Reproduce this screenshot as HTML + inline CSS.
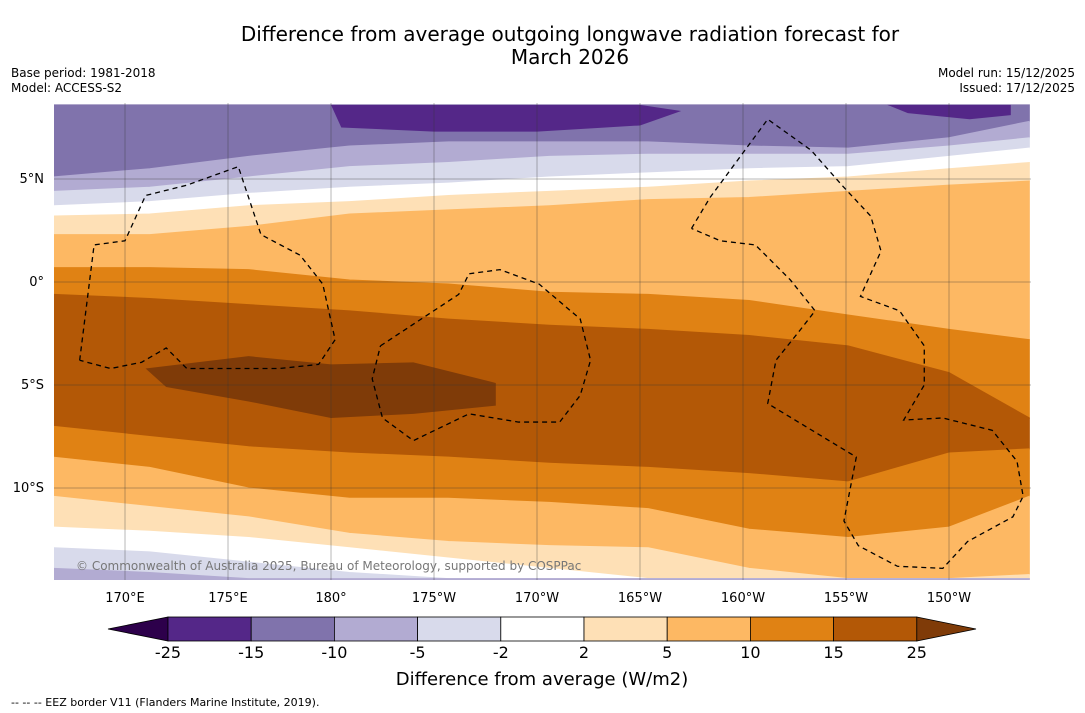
<!DOCTYPE html>
<html><head><meta charset="utf-8">
<style>
body{margin:0;background:#fff;width:1085px;height:713px;overflow:hidden;font-family:"DejaVu Sans","Liberation Sans",sans-serif;}
svg{position:absolute;left:0;top:0;font-family:"DejaVu Sans","Liberation Sans",sans-serif;}
</style></head>
<body>
<svg id="chart" width="1085" height="713">
<text x="570" y="41" font-size="20" text-anchor="middle">Difference from average outgoing longwave radiation forecast for</text>
<text x="570" y="64" font-size="20" text-anchor="middle">March 2026</text>
<text x="11" y="77" font-size="12">Base period: 1981-2018</text>
<text x="11" y="92" font-size="12">Model: ACCESS-S2</text>
<text x="1075" y="77" font-size="12" text-anchor="end">Model run: 15/12/2025</text>
<text x="1075" y="92" font-size="12" text-anchor="end">Issued: 17/12/2025</text>
<defs><clipPath id="mapclip"><rect x="54" y="103" width="977" height="477"/></clipPath></defs>
<g id="map" clip-path="url(#mapclip)"></g>
<g id="grid"></g>
<g id="eez"></g>
<g id="axes"></g>
<g id="cbar"></g>
<text x="76" y="570" font-size="12" fill="#777">© Commonwealth of Australia 2025, Bureau of Meteorology, supported by COSPPac</text>
<text x="542" y="685" font-size="18" text-anchor="middle">Difference from average (W/m2)</text>
<text x="11" y="706" font-size="11">--  --  -- EEZ border V11 (Flanders Marine Institute, 2019).</text>
</svg>
<script>
const NS="http://www.w3.org/2000/svg";
const levels=["-25","-15","-10","-5","-2","2","5","10","15","25"];
const colors=["#542788","#8073ac","#b2abd2","#d8daeb","#ffffff","#fee0b6","#fdb863","#e08214","#b35806"];
const lonTicks=["170°E","175°E","180°","175°W","170°W","165°W","160°W","155°W","150°W"];
const lonValues=[170,175,180,185,190,195,200,205,210];
const latTicks=["5°N","0°","5°S","10°S"];
const latValues=[5,0,-5,-10];
const sampleLon=[166.5,171.2,176.0,180.9,185.7,190.6,195.4,200.3,205.1,210.0,213.9];
const bandColors=["#8073ac","#b2abd2","#d8daeb","#ffffff","#fee0b6","#fdb863","#e08214","#b35806","#e08214","#fdb863","#fee0b6","#ffffff","#d8daeb","#b2abd2"];
const boundaries=[
[8.6,8.6,8.6,8.6,8.6,8.6,8.6,8.6,8.6,8.6,8.6],
[5.1,5.5,6.1,6.6,6.8,6.8,6.8,6.6,6.5,7.0,7.8],
[4.4,4.6,5.1,5.6,5.8,6.1,6.2,6.2,6.2,6.6,7.0],
[3.7,3.9,4.3,4.6,4.8,5.1,5.3,5.5,5.6,6.1,6.5],
[3.2,3.3,3.7,3.9,4.2,4.4,4.6,4.9,5.1,5.5,5.8],
[2.3,2.3,2.7,3.3,3.5,3.7,4.0,4.1,4.4,4.7,4.9],
[0.7,0.7,0.6,0.1,-0.1,-0.5,-0.6,-0.9,-1.6,-2.3,-2.8],
[-0.6,-0.8,-1.1,-1.4,-1.8,-2.1,-2.3,-2.6,-3.1,-4.4,-6.6],
[-7.0,-7.5,-8.0,-8.3,-8.5,-8.8,-9.0,-9.3,-9.7,-8.3,-8.1],
[-8.5,-9.0,-10.0,-10.5,-10.5,-10.7,-11.0,-12.0,-12.4,-11.9,-10.4],
[-10.4,-10.9,-11.4,-12.2,-12.6,-12.8,-12.9,-13.9,-14.4,-14.4,-14.2],
[-11.9,-12.1,-12.4,-12.9,-13.4,-13.9,-14.4,-14.4,-14.4,-14.4,-14.4],
[-12.9,-13.1,-13.6,-14.1,-14.4,-14.4,-14.4,-14.4,-14.4,-14.4,-14.4],
[-13.9,-14.1,-14.4,-14.4,-14.4,-14.4,-14.4,-14.4,-14.4,-14.4,-14.4],
[-14.6,-14.6,-14.6,-14.6,-14.6,-14.6,-14.6,-14.6,-14.6,-14.6,-14.6]
];
const darkBrownLon=[171.0,176.0,180.0,184.0,188.0,188.0,184.0,180.0,176.0,172.0];
const darkBrownLat=[-4.2,-3.6,-4.0,-3.9,-4.9,-6.0,-6.4,-6.6,-5.8,-5.1];
const darkPurpleLon=[180.0,185.0,190.0,195.0,197.0,195.0,190.0,185.0,180.5];
const darkPurpleLat=[8.6,8.6,8.6,8.6,8.3,7.6,7.3,7.3,7.5];
const darkPurple2Lon=[207.0,213.0,213.0,211.0,208.0];
const darkPurple2Lat=[8.6,8.6,8.1,7.9,8.2];
const eezPaths=[
[[167.8,-3.8],[168.5,1.8],[170.0,2.0],[171.0,4.2],[173.0,4.7],[175.5,5.6],[176.6,2.3],[178.5,1.3],[179.6,-0.1],[180.2,-2.8],[179.4,-4.0],[177.5,-4.2],[173.0,-4.2],[172.0,-3.2],[170.8,-3.9],[169.3,-4.2],[167.8,-3.8]],
[[182.4,-3.1],[186.2,-0.6],[186.7,0.4],[188.2,0.6],[190.1,-0.1],[192.1,-1.8],[192.6,-3.8],[192.1,-5.5],[191.1,-6.8],[189.1,-6.8],[186.7,-6.4],[184.0,-7.7],[182.5,-6.6],[182.0,-4.7],[182.4,-3.1]],
[[197.5,2.6],[198.4,4.1],[201.2,7.9],[203.3,6.4],[204.8,4.7],[206.2,3.2],[206.7,1.5],[205.7,-0.7],[207.6,-1.4],[208.8,-3.1],[208.8,-5.0],[207.8,-6.7],[209.7,-6.6],[212.1,-7.2],[213.3,-8.7],[213.6,-10.4],[213.1,-11.4],[210.9,-12.6],[209.7,-13.9],[207.5,-13.8],[205.6,-12.8],[204.9,-11.6],[205.5,-8.5],[201.2,-5.9],[201.6,-3.8],[202.8,-2.3],[203.5,-1.4],[202.3,0.1],[200.6,1.8],[198.9,2.0],[197.5,2.6]]
];
function xS(lon){return 125+(lon-170)*20.6;}
function yS(lat){return 282-lat*20.6;}
function mk(tag,attrs,parent){const e=document.createElementNS(NS,tag);for(const k in attrs)e.setAttribute(k,attrs[k]);parent.appendChild(e);return e;}
const map=document.getElementById('map');
for(let b=0;b<bandColors.length;b++){
  const top=boundaries[b],bot=boundaries[b+1];
  let pts=[];
  for(let i=0;i<sampleLon.length;i++)pts.push(xS(sampleLon[i])+","+yS(top[i]));
  for(let i=sampleLon.length-1;i>=0;i--)pts.push(xS(sampleLon[i])+","+yS(bot[i]));
  const p=mk('polygon',{points:pts.join(" "),fill:bandColors[b],stroke:bandColors[b],'stroke-width':1},map);
  
  
}
function blob(lons,lats,fill,name){
  const pts=lons.map((l,i)=>xS(l)+","+yS(lats[i])).join(" ");
  const p=mk('polygon',{points:pts,fill:fill},map);
  
  
}
blob(darkBrownLon,darkBrownLat,"#7f3b08","extreme-positive-region");
blob(darkPurpleLon,darkPurpleLat,"#542788","extreme-negative-region");
blob(darkPurple2Lon,darkPurple2Lat,"#542788","extreme-negative-region-east");
const grid=document.getElementById('grid');
lonValues.forEach(v=>{const l=mk('line',{x1:xS(v),x2:xS(v),y1:103,y2:580,stroke:'#333','stroke-width':0.5,'stroke-opacity':0.7},grid);});
latValues.forEach(v=>{const l=mk('line',{x1:54,x2:1031,y1:yS(v),y2:yS(v),stroke:'#333','stroke-width':0.5,'stroke-opacity':0.7},grid);});
const eez=document.getElementById('eez');
eezPaths.forEach(pth=>{const l=mk('polyline',{points:pth.map(q=>xS(q[0])+","+yS(q[1])).join(" "),fill:'none',stroke:'#000','stroke-width':1.3,'stroke-dasharray':'5,4'},eez);});
const axes=document.getElementById('axes');
lonTicks.forEach((t,i)=>{const e=mk('text',{x:xS(lonValues[i]),y:602,'font-size':13,'text-anchor':'middle'},axes);e.textContent=t;});
latTicks.forEach((t,i)=>{const e=mk('text',{x:44,y:yS(latValues[i])+4,'font-size':13,'text-anchor':'end'},axes);e.textContent=t;});
const cb=document.getElementById('cbar');
const cx0=168,cw=83.2,cy=617,ch=24;
let t1=mk('polygon',{points:`108,629 ${cx0},${cy} ${cx0},${cy+ch}`,fill:'#2d004b',stroke:'#000','stroke-width':0.8},cb);

colors.forEach((c,i)=>{const r=mk('rect',{x:cx0+i*cw,y:cy,width:cw,height:ch,fill:c,stroke:'#000','stroke-width':0.8},cb);});
const cend=cx0+colors.length*cw;
let t2=mk('polygon',{points:`${cend},${cy} 976,629 ${cend},${cy+ch}`,fill:'#7f3b08',stroke:'#000','stroke-width':0.8},cb);

levels.forEach((t,i)=>{const e=mk('text',{x:cx0+i*cw,y:658,'font-size':16,'text-anchor':'middle'},cb);e.textContent=t;});
</script>
</body></html>
